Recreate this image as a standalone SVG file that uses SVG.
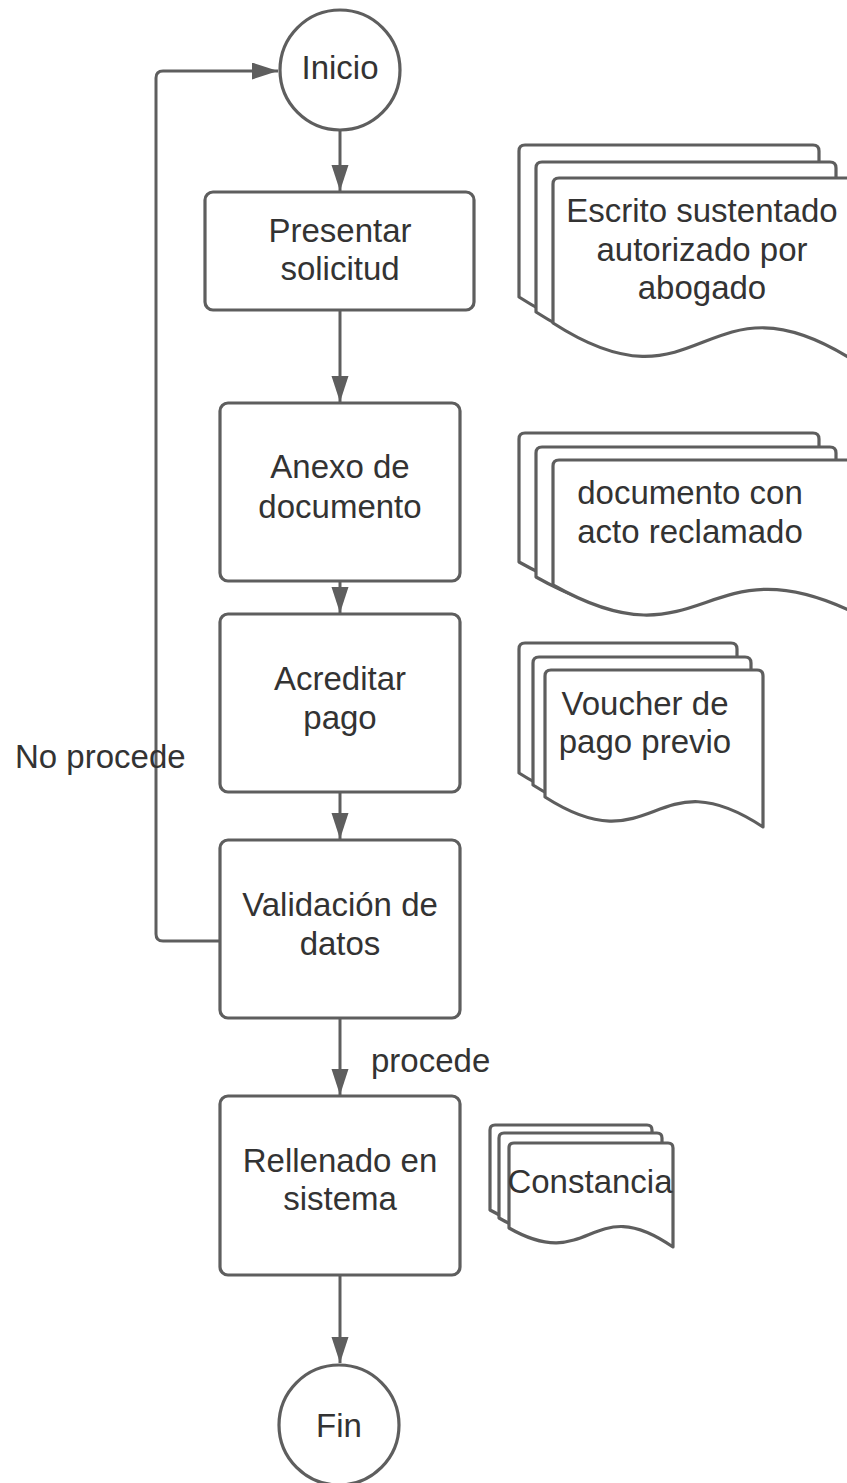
<svg xmlns="http://www.w3.org/2000/svg" width="847" height="1483" viewBox="0 0 847 1483">
<style>
.shape{fill:#ffffff;stroke:#5e5e5e;stroke-width:3.2;stroke-linejoin:round}
.conn{fill:none;stroke:#5e5e5e;stroke-width:3}
text{font-family:"Liberation Sans",Arial,sans-serif;font-size:33px;fill:#333333}
.c{text-anchor:middle}
</style>
<defs>
<marker id="arr" markerUnits="userSpaceOnUse" markerWidth="28" markerHeight="20" refX="26" refY="8.5" orient="auto">
<path d="M0,0 L26,8.5 L0,17 Z" fill="#5e5e5e"/>
</marker>
</defs>
<rect width="847" height="1483" fill="#ffffff"/>
<g id="connectors">
<path class="conn" d="M340,131 L340,191" marker-end="url(#arr)"/>
<path class="conn" d="M340,311 L340,402" marker-end="url(#arr)"/>
<path class="conn" d="M340,582 L340,613" marker-end="url(#arr)"/>
<path class="conn" d="M340,793 L340,839" marker-end="url(#arr)"/>
<path class="conn" d="M340,1019 L340,1095" marker-end="url(#arr)"/>
<path class="conn" d="M340,1276 L340,1363" marker-end="url(#arr)"/>
<path class="conn" d="M220,941 L163,941 Q156,941 156,934 L156,78 Q156,71 163,71 L278,71" marker-end="url(#arr)"/>
<text x="371" y="1072">procede</text>
<text x="15" y="768">No procede</text>
</g>
<g id="inicio">
<circle class="shape" cx="340" cy="70" r="60"/>
<text class="c" x="340" y="79">Inicio</text>
</g>
<g id="presentar">
<rect class="shape" x="205" y="192" width="269" height="118" rx="8"/>
<text class="c" x="340" y="242">Presentar</text>
<text class="c" x="340" y="280">solicitud</text>
</g>
<g id="anexo">
<rect class="shape" x="220" y="403" width="240" height="178" rx="8"/>
<text class="c" x="340" y="478">Anexo de</text>
<text class="c" x="340" y="518">documento</text>
</g>
<g id="acreditar">
<rect class="shape" x="220" y="614" width="240" height="178" rx="8"/>
<text class="c" x="340" y="690">Acreditar</text>
<text class="c" x="340" y="729">pago</text>
</g>
<g id="validacion">
<rect class="shape" x="220" y="840" width="240" height="178" rx="8"/>
<text class="c" x="340" y="916">Validación de</text>
<text class="c" x="340" y="955">datos</text>
</g>
<g id="rellenado">
<rect class="shape" x="220" y="1096" width="240" height="179" rx="8"/>
<text class="c" x="340" y="1172">Rellenado en</text>
<text class="c" x="340" y="1210">sistema</text>
</g>
<g id="fin">
<circle class="shape" cx="339" cy="1425" r="60"/>
<text class="c" x="339" y="1437">Fin</text>
</g>
<g id="doc-escrito">
<path class="shape" d="M519,297 L519,151 Q519,145 525,145 L813,145 Q819,145 819,151 L819,334 C669,239 669,394 519,297 Z"/>
<path class="shape" d="M536,312 L536,168 Q536,162 542,162 L830,162 Q836,162 836,168 L836,349 C686,254 686,409 536,312 Z"/>
<path class="shape" d="M553,323 L553,184 Q553,178 559,178 L847,178 Q853,178 853,184 L853,360 C703,265 703,420 553,323 Z"/>
<text class="c" x="702" y="222">Escrito sustentado</text>
<text class="c" x="702" y="261">autorizado por</text>
<text class="c" x="702" y="299">abogado</text>
</g>
<g id="doc-documento">
<path class="shape" d="M519,562 L519,439 Q519,433 525,433 L813,433 Q819,433 819,439 L819,589 C669,517 669,647 519,562 Z"/>
<path class="shape" d="M536,577 L536,453 Q536,447 542,447 L830,447 Q836,447 836,453 L836,604 C686,532 686,662 536,577 Z"/>
<path class="shape" d="M553,585 L553,466 Q553,460 559,460 L847,460 Q853,460 853,466 L853,612 C703,540 703,670 553,585 Z"/>
<text class="c" x="690" y="504">documento con</text>
<text class="c" x="690" y="543">acto reclamado</text>
</g>
<g id="doc-voucher">
<path class="shape" d="M519,773 L519,649 Q519,643 525,643 L731,643 Q737,643 737,649 L737,803 C628,731 628,843 519,773 Z"/>
<path class="shape" d="M533,785 L533,663 Q533,657 539,657 L745,657 Q751,657 751,663 L751,815 C642,743 642,855 533,785 Z"/>
<path class="shape" d="M545,797 L545,676 Q545,670 551,670 L757,670 Q763,670 763,676 L763,827 C654,755 654,867 545,797 Z"/>
<text class="c" x="645" y="715">Voucher de</text>
<text class="c" x="645" y="753">pago previo</text>
</g>
<g id="doc-constancia">
<path class="shape" d="M490,1210 L490,1130 Q490,1125 495,1125 L647,1125 Q652,1125 652,1130 L652,1229 C571,1172 571,1257 490,1210 Z"/>
<path class="shape" d="M499,1218 L499,1138 Q499,1133 504,1133 L657,1133 Q662,1133 662,1138 L662,1237 C580,1180 580,1265 499,1218 Z"/>
<path class="shape" d="M509,1228 L509,1148 Q509,1143 514,1143 L668,1143 Q673,1143 673,1148 L673,1247 C591,1190 591,1275 509,1228 Z"/>
<text class="c" x="590" y="1193">Constancia</text>
</g>
</svg>
